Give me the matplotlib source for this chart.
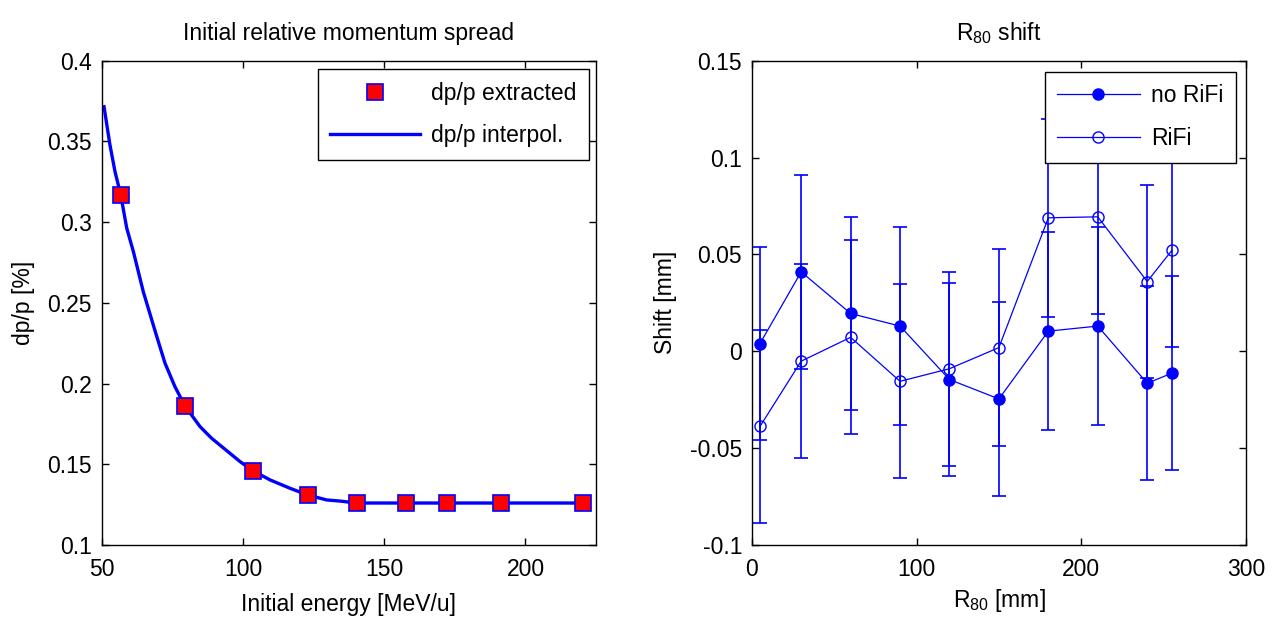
import matplotlib
matplotlib.use("Agg")
import matplotlib.pyplot as plt

plt.rcParams['font.family'] = ['Liberation Sans', 'DejaVu Sans']
plt.rcParams['mathtext.default'] = 'regular'
plt.rcParams['axes.unicode_minus'] = False

# ---- Left panel data ----
energy_extracted = [56.7, 79.5, 103.5, 122.9, 140.3, 157.6, 172.3, 191.2, 220.4]
dpp_extracted = [0.317, 0.186, 0.146, 0.131, 0.126, 0.126, 0.126, 0.126, 0.126]
energy_interp = [50.8, 52.9, 54.7, 56.7, 58.85, 61.2, 64.7, 69.5, 72.4, 75.9,
                 79.5, 84.8, 88.9, 99.0, 103.5, 109.6, 116.7, 122.9, 129.65, 134.4,
                 140.3, 157.6, 172.3, 191.2, 220.4]
dpp_interp = [0.3715, 0.3478, 0.3312, 0.317, 0.2962, 0.2817, 0.2569, 0.229,
              0.2126, 0.1981, 0.186, 0.1733, 0.1661, 0.1516, 0.146, 0.1403, 0.1351,
              0.131, 0.1279, 0.1272, 0.126, 0.126, 0.126, 0.126, 0.126]
left_xticks = [50, 100, 150, 200]
left_yticks = [0.1, 0.15, 0.2, 0.25, 0.3, 0.35, 0.4]
left_yticklabels = ['0.1', '0.15', '0.2', '0.25', '0.3', '0.35', '0.4']

# ---- Right panel data ----
r80 = [5, 30, 60, 90, 120, 150, 180, 210, 240, 255]
shift_norifi = [0.004, 0.041, 0.0195, 0.013, -0.0146, -0.0246, 0.0104, 0.013, -0.0165, -0.0113]
err_norifi = [0.050, 0.050, 0.050, 0.051, 0.050, 0.050, 0.051, 0.051, 0.050, 0.050]
shift_rifi = [-0.0388, -0.0051, 0.0072, -0.0155, -0.009, 0.0019, 0.0689, 0.0694, 0.036, 0.0521]
err_rifi = [0.050, 0.050, 0.050, 0.050, 0.050, 0.051, 0.051, 0.050, 0.050, 0.050]
right_xticks = [0, 100, 200, 300]
right_yticks = [-0.1, -0.05, 0, 0.05, 0.1, 0.15]
right_yticklabels = ['-0.1', '-0.05', '0', '0.05', '0.1', '0.15']

FS = 16.5
BLUE = (0, 0, 1)

fig = plt.figure(figsize=(12.72, 6.25), dpi=100)
ax1 = fig.add_axes([0.080, 0.128, 0.3886, 0.7749])
ax2 = fig.add_axes([0.591, 0.128, 0.3886, 0.7749])

for ax in (ax1, ax2):
    ax.tick_params(direction='in', top=True, right=True, length=5, width=1,
                   labelsize=FS, colors='black')
    ax.tick_params(axis='x', pad=9)
    ax.tick_params(axis='y', pad=7)
    for s in ax.spines.values():
        s.set_linewidth(1.0)
        s.set_color('black')

# Left
ax1.plot(energy_extracted, dpp_extracted, 's', color=BLUE, mfc='red', mec=BLUE,
         ms=12, mew=1.2, label='dp/p extracted', zorder=3)
ax1.plot(energy_interp, dpp_interp, '-', color=BLUE, lw=2.4, label='dp/p interpol.', zorder=2)
ax1.set_xlim(50, 225)
ax1.set_ylim(0.1, 0.4)
ax1.set_xticks(left_xticks)
ax1.set_yticks(left_yticks)
ax1.set_yticklabels(left_yticklabels)
ax1.set_title('Initial relative momentum spread', fontsize=FS, pad=15)
ax1.set_xlabel('Initial energy [MeV/u]', fontsize=FS, labelpad=9)
ax1.set_ylabel('dp/p [%]', fontsize=FS, labelpad=9)
leg1 = ax1.legend(loc='upper right', bbox_to_anchor=(0.986, 0.982), borderaxespad=0,
                  fontsize=FS, handlelength=3.9, handletextpad=0.5, borderpad=0.55,
                  labelspacing=0.85, fancybox=False, framealpha=1, edgecolor='black')
leg1.get_frame().set_linewidth(1.0)

# Right
e1 = ax2.errorbar(r80, shift_norifi, yerr=err_norifi, fmt='-o', color=BLUE, mfc=BLUE,
                  mec=BLUE, ms=8, lw=0.9, elinewidth=1.2, capsize=5, capthick=1.2)
e2 = ax2.errorbar(r80, shift_rifi, yerr=err_rifi, fmt='-o', color=BLUE, mfc='none',
                  mec=BLUE, ms=8, lw=0.9, elinewidth=1.2, capsize=5, capthick=1.2)
ax2.set_xlim(0, 300)
ax2.set_ylim(-0.1, 0.15)
ax2.set_xticks(right_xticks)
ax2.set_yticks(right_yticks)
ax2.set_yticklabels(right_yticklabels)
ax2.set_title('R$_{80}$ shift', fontsize=FS, pad=15)
ax2.set_xlabel('R$_{80}$ [mm]', fontsize=FS, labelpad=5)
ax2.set_ylabel('Shift [mm]', fontsize=FS, labelpad=9)
leg2 = ax2.legend([e1[0], e2[0]], ['no RiFi', 'RiFi'], loc='upper right',
                  bbox_to_anchor=(0.98, 0.977), borderaxespad=0,
                  fontsize=FS, handlelength=3.6, handletextpad=0.5, borderpad=0.55,
                  labelspacing=0.85, fancybox=False, framealpha=1, edgecolor='black')
leg2.get_frame().set_linewidth(1.0)

fig.savefig('out.png', dpi=100, facecolor='white')
